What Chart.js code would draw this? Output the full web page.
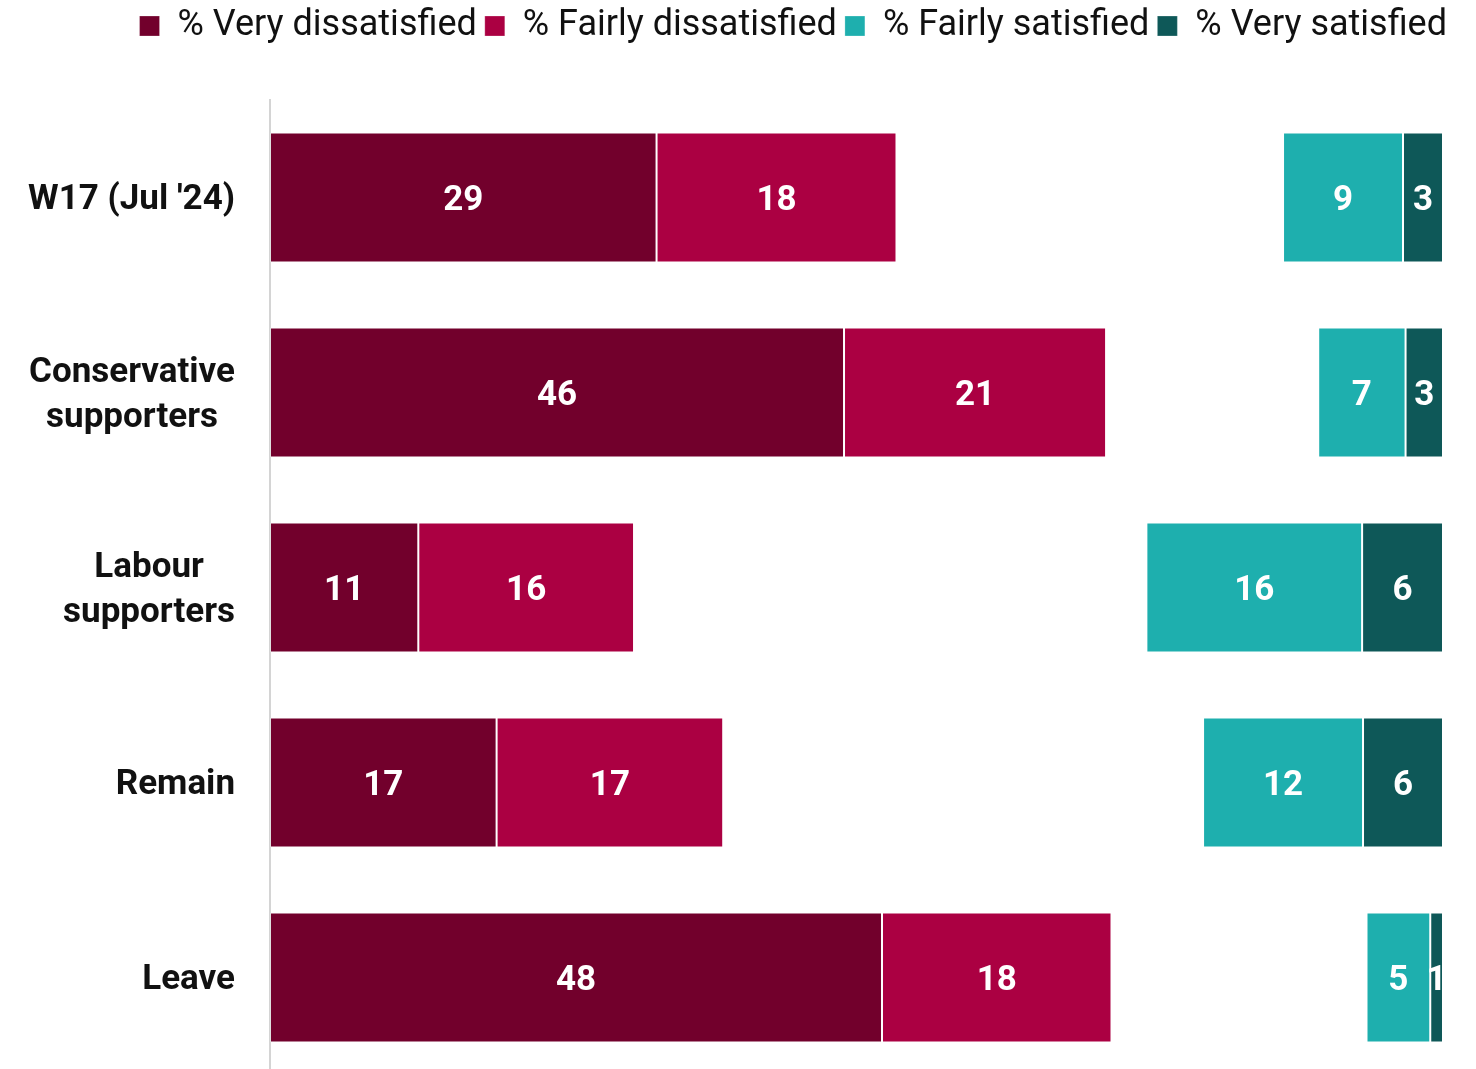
<!DOCTYPE html>
<html>
<head>
<meta charset="utf-8">
<script src="https://cdn.jsdelivr.net/npm/chart.js@4.4.1/dist/chart.umd.min.js"></script>
<style>
  html, body { margin: 0; padding: 0; background: #fff; overflow: hidden; }
  #wrap { position: relative; width: 1476px; height: 1075px; }
</style>
</head>
<body>
<div id="wrap"><canvas id="satChart"></canvas></div>
<script>
// Rows and answers (%)
const categories = ["W17 (Jul '24)", ["Conservative", "supporters"], ["Labour", "supporters"], "Remain", "Leave"];
const veryDissatisfied = [29, 46, 11, 17, 48];
const fairlyDissatisfied = [18, 21, 16, 17, 18];
const neither = [29, 17, 38, 36, 20]; // middle answers, kept as blank space
const fairlySatisfied = [9, 7, 16, 12, 5];
const verySatisfied = [3, 3, 6, 6, 1];

const FONT = "Roboto, 'Liberation Sans', sans-serif";

// each row is shown as a share of its own total
const rowTotals = categories.map((_, i) =>
  veryDissatisfied[i] + fairlyDissatisfied[i] + neither[i] + fairlySatisfied[i] + verySatisfied[i]);
const share = arr => arr.map((v, i) => v / rowTotals[i] * 100);

function series(label, values, color) {
  return {
    label: label,
    raw: values,
    data: share(values),
    backgroundColor: color,
    borderColor: "rgba(255,255,255,0.25)",
    borderWidth: 1,
    borderSkipped: false,
  };
}

const datasets = [
  series("% Very dissatisfied", veryDissatisfied, "#72002c"),
  series("% Fairly dissatisfied", fairlyDissatisfied, "#ab0042"),
  Object.assign(series("Neither", neither, "rgba(0,0,0,0)"), { borderWidth: 0, blank: true }),
  series("% Fairly satisfied", fairlySatisfied, "#1eafae"),
  series("% Very satisfied", verySatisfied, "#0e5858"),
];

// legend gets a fixed band at the top, nudged to the right edge
const legendBand = {
  id: "legendBand",
  beforeInit(chart) {
    const fit = chart.legend.fit;
    chart.legend.fit = function () {
      fit.call(this);
      this.height = 100;
    };
  },
  afterLayout(chart) {
    chart.legend.left += 12;
    chart.legend.right += 12;
  },
};

// white value labels in the middle of each bar
const valueLabels = {
  id: "valueLabels",
  afterDatasetsDraw(chart) {
    const ctx = chart.ctx;
    ctx.save();
    ctx.font = "bold 35px " + FONT;
    ctx.fillStyle = "#fff";
    ctx.textAlign = "center";
    ctx.textBaseline = "middle";
    chart.data.datasets.forEach((ds, di) => {
      if (ds.blank) return;
      chart.getDatasetMeta(di).data.forEach((bar, i) => {
        ctx.fillText(String(ds.raw[i]), (bar.x + bar.base) / 2, bar.y + 4);
      });
    });
    ctx.restore();
  },
};

// row labels: block right-aligned to the axis, lines centred within it
const rowLabels = {
  id: "rowLabels",
  afterDraw(chart) {
    const ctx = chart.ctx;
    const y = chart.scales.y;
    const right = chart.chartArea.left - 35;
    const lineH = 45;
    ctx.save();
    ctx.font = "bold 35px " + FONT;
    ctx.fillStyle = "#111";
    ctx.textAlign = "center";
    ctx.textBaseline = "middle";
    categories.forEach((lab, i) => {
      const lines = Array.isArray(lab) ? lab : [lab];
      const w = Math.max(...lines.map(l => ctx.measureText(l).width));
      const cx = right - w / 2;
      const cy = y.getPixelForValue(i) + 3;
      lines.forEach((l, k) => {
        ctx.fillText(l, cx, cy + (k - (lines.length - 1) / 2) * lineH);
      });
    });
    ctx.restore();
  },
};

new Chart(document.getElementById("satChart"), {
  type: "bar",
  data: { labels: categories, datasets: datasets },
  options: {
    indexAxis: "y",
    responsive: true,
    maintainAspectRatio: false,
    animation: false,
    layout: { padding: { left: 0, right: 33, top: 0, bottom: 0 } },
    datasets: { bar: { barPercentage: 1, categoryPercentage: 130 / 195 } },
    scales: {
      x: { stacked: true, min: 0, max: 100, display: false },
      y: {
        stacked: true,
        grid: { display: false, drawTicks: false },
        border: { display: true, color: "#d4d4d4", width: 2 },
        ticks: { display: false },
        afterFit(scale) { scale.width = 270; },
      },
    },
    plugins: {
      legend: {
        position: "top",
        align: "end",
        labels: {
          boxWidth: 20,
          boxHeight: 20,
          padding: 8,
          color: "#111",
          font: { family: FONT, size: 36, lineHeight: 1 },
          filter: item => item.text !== "Neither",
        },
      },
      tooltip: { enabled: false },
    },
  },
  plugins: [legendBand, valueLabels, rowLabels],
});
</script>
</body>
</html>
